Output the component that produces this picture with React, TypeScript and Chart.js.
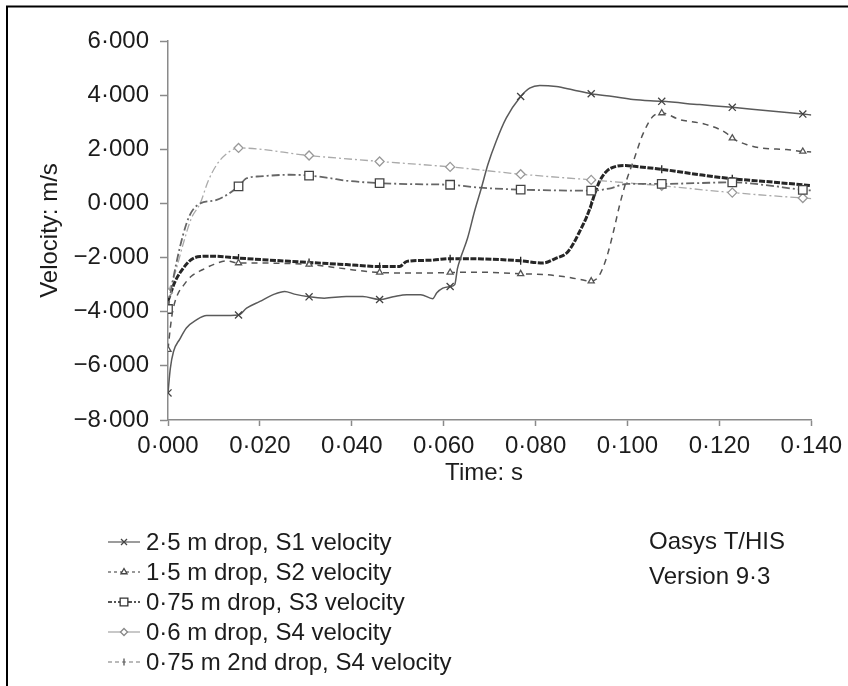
import React, { useEffect, useRef } from 'react';
import { Chart, registerables } from 'chart.js';

Chart.register(...registerables);

const X_TICKS = [0, 0.02, 0.04, 0.06, 0.08, 0.1, 0.12, 0.14];
const Y_TICKS = [-8, -6, -4, -2, 0, 2, 4, 6];
const MARKER_TIMES = [0, 0.01535, 0.0307, 0.04605, 0.0614, 0.07675, 0.0921, 0.10745, 0.1228, 0.13815];

const S1_TIME = [0, 0.0005, 0.0012, 0.0026, 0.004, 0.0062, 0.0084, 0.0113, 0.01535, 0.0171, 0.02, 0.0229, 0.0254, 0.0275, 0.0307, 0.034, 0.0388, 0.0424, 0.04605, 0.049, 0.052, 0.055, 0.0576, 0.0585, 0.0598, 0.0614, 0.0624, 0.063, 0.0637, 0.0652, 0.0667, 0.0682, 0.0696, 0.0714, 0.0736, 0.07675, 0.0787, 0.0809, 0.0845, 0.088, 0.0921, 0.0968, 0.1012, 0.10745, 0.1157, 0.1228, 0.13, 0.13815, 0.14];
const S1_VEL = [-7.0, -6.1, -5.47, -5.0, -4.6, -4.3, -4.14, -4.14, -4.12, -3.87, -3.62, -3.37, -3.25, -3.35, -3.45, -3.5, -3.44, -3.44, -3.55, -3.45, -3.37, -3.37, -3.52, -3.3, -3.13, -3.07, -3.0, -2.4, -2.0, -1.28, -0.3, 0.57, 1.43, 2.29, 3.15, 3.95, 4.26, 4.36, 4.32, 4.2, 4.05, 3.95, 3.84, 3.77, 3.65, 3.55, 3.43, 3.3, 3.27];

const S2_TIME = [0, 0.0005, 0.001, 0.002, 0.0035, 0.005, 0.0075, 0.01, 0.0128, 0.01535, 0.02, 0.026, 0.0307, 0.0374, 0.041, 0.04605, 0.052, 0.057, 0.0614, 0.067, 0.072, 0.07675, 0.082, 0.086, 0.0895, 0.0921, 0.0935, 0.0946, 0.0958, 0.097, 0.0983, 0.0997, 0.1015, 0.1033, 0.1055, 0.10745, 0.1113, 0.117, 0.1215, 0.1228, 0.126, 0.1293, 0.1346, 0.13815, 0.14];
const S2_VEL = [-5.4, -4.6, -4.0, -3.4, -3.0, -2.7, -2.45, -2.25, -2.12, -2.2, -2.2, -2.22, -2.25, -2.39, -2.47, -2.55, -2.57, -2.57, -2.55, -2.54, -2.56, -2.6, -2.63, -2.7, -2.8, -2.87, -2.75, -2.4, -1.8, -1.0, -0.05, 0.81, 1.67, 2.54, 3.21, 3.34, 3.1, 2.92, 2.6, 2.41, 2.17, 2.04, 1.99, 1.92, 1.9];

const S3_TIME = [0, 0.0005, 0.0019, 0.0033, 0.0048, 0.007, 0.0106, 0.01535, 0.0171, 0.02, 0.0265, 0.0307, 0.035, 0.0388, 0.04605, 0.054, 0.0614, 0.068, 0.07675, 0.085, 0.0921, 0.096, 0.1, 0.10745, 0.115, 0.1228, 0.13, 0.13815, 0.14];
const S3_VEL = [-3.9, -3.37, -2.14, -1.15, -0.41, 0.0, 0.13, 0.63, 0.93, 1.0, 1.06, 1.03, 0.94, 0.84, 0.75, 0.71, 0.69, 0.58, 0.51, 0.48, 0.47, 0.55, 0.72, 0.72, 0.75, 0.78, 0.68, 0.5, 0.48];

const S4_TIME = [0, 0.0015, 0.0033, 0.0051, 0.007, 0.0087, 0.0106, 0.0125, 0.01535, 0.0307, 0.04605, 0.0614, 0.07675, 0.0921, 0.10745, 0.1228, 0.13815, 0.14];
const S4_VEL = [-3.3, -2.6, -1.5, -0.54, 0.0, 0.81, 1.43, 1.8, 2.05, 1.77, 1.55, 1.35, 1.08, 0.87, 0.65, 0.4, 0.2, 0.18];

const S5_TIME = [0, 0.0015, 0.0033, 0.0051, 0.007, 0.0098, 0.01535, 0.0265, 0.0307, 0.0388, 0.04605, 0.0504, 0.052, 0.057, 0.0614, 0.0685, 0.07675, 0.0816, 0.0845, 0.0867, 0.0881, 0.0896, 0.091, 0.0921, 0.0928, 0.0939, 0.0954, 0.0975, 0.0995, 0.1015, 0.10745, 0.1157, 0.1228, 0.13, 0.14];
const S5_VEL = [-3.6, -2.9, -2.4, -2.07, -1.96, -1.95, -2.02, -2.14, -2.18, -2.26, -2.33, -2.33, -2.14, -2.1, -2.04, -2.05, -2.12, -2.2, -2.02, -1.84, -1.52, -1.03, -0.54, -0.05, 0.32, 0.81, 1.18, 1.37, 1.4, 1.37, 1.26, 1.06, 0.91, 0.81, 0.66];

const SERIES_LABELS = [
  '2·5 m drop, S1 velocity',
  '1·5 m drop, S2 velocity',
  '0·75 m drop, S3 velocity',
  '0·6 m drop, S4 velocity',
  '0·75 m 2nd drop, S4 velocity',
];
const NOTE_LINES = ['Oasys T/HIS', 'Version 9·3'];
const X_TITLE = 'Time: s';
const Y_TITLE = 'Velocity: m/s';

const FONT = '"Liberation Sans", Arial, Helvetica, sans-serif';
const TEXT = '#1c1c1c';
const AXIS = '#8a8a8a';

type Style = {
  color: string; width: number; dash: number[];
  marker: string; radius: number; markerColor: string; markerFill: string;
};

const STYLES: Style[] = [
  { color: '#5a5a5a', width: 1.5, dash: [], marker: 'crossRot', radius: 5, markerColor: '#444', markerFill: '#fff' },
  { color: '#555', width: 1.5, dash: [6, 5], marker: 'triangle', radius: 3.5, markerColor: '#555', markerFill: '#fff' },
  { color: '#666', width: 1.8, dash: [8, 3, 2, 3], marker: 'rect', radius: 6, markerColor: '#444', markerFill: '#fff' },
  { color: '#aaa', width: 1.3, dash: [8, 3, 2, 3], marker: 'rectRot', radius: 4.5, markerColor: '#999', markerFill: '#fff' },
  { color: '#262626', width: 3, dash: [6, 1.5], marker: 'line', radius: 4, markerColor: '#222', markerFill: '#222' },
];

// how each row of the key looks in the picture
const KEY_STYLES: Style[] = [
  { color: '#666', width: 1.3, dash: [], marker: 'crossRot', radius: 4, markerColor: '#444', markerFill: '#fff' },
  { color: '#777', width: 1.3, dash: [3, 3], marker: 'triangle', radius: 3.5, markerColor: '#444', markerFill: '#fff' },
  { color: '#555', width: 2, dash: [4, 2, 2, 2], marker: 'rect', radius: 5.5, markerColor: '#333', markerFill: '#fff' },
  { color: '#aaa', width: 1.3, dash: [], marker: 'rectRot', radius: 3.5, markerColor: '#888', markerFill: '#fff' },
  { color: '#777', width: 1.2, dash: [4, 3], marker: 'line', radius: 3.5, markerColor: '#555', markerFill: '#555' },
];

const fmt = (v: number) => {
  const s = Math.abs(v).toFixed(3).replace('.', '\u00b7');
  return (v < -1e-9 ? '\u2212' : '') + s;
};

const isMarker = (t: number) => MARKER_TIMES.some((m) => Math.abs(m - t) < 1e-7);

function drawMarker(ctx: CanvasRenderingContext2D, st: Style, x: number, y: number) {
  const r = st.radius;
  ctx.save();
  ctx.setLineDash([]);
  ctx.strokeStyle = st.markerColor;
  ctx.fillStyle = st.markerFill;
  ctx.lineWidth = 1.3;
  ctx.beginPath();
  if (st.marker === 'crossRot') {
    const d = r * 0.75;
    ctx.moveTo(x - d, y - d); ctx.lineTo(x + d, y + d);
    ctx.moveTo(x - d, y + d); ctx.lineTo(x + d, y - d);
    ctx.stroke();
  } else if (st.marker === 'triangle') {
    ctx.moveTo(x, y - r); ctx.lineTo(x + r * 0.87, y + r * 0.5); ctx.lineTo(x - r * 0.87, y + r * 0.5); ctx.closePath();
    ctx.fill(); ctx.stroke();
  } else if (st.marker === 'rect') {
    const s = r * 0.7;
    ctx.rect(x - s, y - s, 2 * s, 2 * s); ctx.fill(); ctx.stroke();
  } else if (st.marker === 'rectRot') {
    ctx.moveTo(x, y - r); ctx.lineTo(x + r, y); ctx.lineTo(x, y + r); ctx.lineTo(x - r, y); ctx.closePath();
    ctx.fill(); ctx.stroke();
  } else {
    ctx.moveTo(x, y - r); ctx.lineTo(x, y + r); ctx.stroke();
  }
  ctx.restore();
}

const decorPlugin = {
  id: 'decor',
  afterDraw(chart: any) {
    const ctx: CanvasRenderingContext2D = chart.ctx;
    ctx.save();
    // frame
    ctx.strokeStyle = '#000';
    ctx.lineWidth = 2;
    ctx.setLineDash([]);
    ctx.beginPath();
    ctx.moveTo(7, 900); ctx.lineTo(7, 6.5); ctx.lineTo(900, 6.5);
    ctx.stroke();

    ctx.fillStyle = TEXT;
    ctx.font = `24px ${FONT}`;
    // axis titles
    const ca = chart.chartArea;
    ctx.textAlign = 'center';
    ctx.textBaseline = 'middle';
    ctx.fillText(X_TITLE, 484, 473);
    ctx.save();
    ctx.translate(50, (ca.top + ca.bottom) / 2);
    ctx.rotate(-Math.PI / 2);
    ctx.fillText(Y_TITLE, 0, 0);
    ctx.restore();

    // key
    SERIES_LABELS.forEach((label, i) => {
      const st = KEY_STYLES[i];
      const y = 542 + 30 * i;
      ctx.save();
      ctx.strokeStyle = st.color;
      ctx.lineWidth = st.width;
      ctx.setLineDash(st.dash);
      ctx.beginPath();
      ctx.moveTo(108, y); ctx.lineTo(140, y);
      ctx.stroke();
      ctx.restore();
      drawMarker(ctx, st, 124, y);
      ctx.fillStyle = TEXT;
      ctx.textAlign = 'left';
      ctx.textBaseline = 'middle';
      ctx.fillText(label, 146, y + 1);
    });

    // note
    ctx.textAlign = 'left';
    NOTE_LINES.forEach((line, i) => {
      ctx.fillText(line, 649, 542 + 35 * i);
    });
    ctx.restore();
  },
};

const SERIES = [
  [S1_TIME, S1_VEL],
  [S2_TIME, S2_VEL],
  [S3_TIME, S3_VEL],
  [S4_TIME, S4_VEL],
  [S5_TIME, S5_VEL],
];

export default function App() {
  const ref = useRef<HTMLCanvasElement | null>(null);

  useEffect(() => {
    const canvas = ref.current;
    if (!canvas) return;
    const datasets = SERIES.map(([ts, vs], i) => {
      const st = STYLES[i];
      return {
        label: SERIES_LABELS[i],
        data: ts.map((t, k) => ({ x: t, y: vs[k] })),
        borderColor: st.color,
        borderWidth: st.width,
        borderDash: st.dash,
        fill: false,
        cubicInterpolationMode: 'monotone' as const,
        pointStyle: st.marker,
        pointRotation: st.marker === 'line' ? 90 : 0,
        pointBorderColor: st.markerColor,
        pointBackgroundColor: st.markerFill,
        pointBorderWidth: 1.3,
        pointRadius: (c: any) => (c.raw && isMarker(c.raw.x) ? st.radius : 0),
        pointHoverRadius: 0,
      };
    });

    const chart = new Chart(canvas, {
      type: 'line',
      data: { datasets },
      options: {
        animation: false,
        responsive: false,
        maintainAspectRatio: false,
        events: [],
        layout: { padding: { left: 0, right: 36, top: 41, bottom: 0 } },
        plugins: { legend: { display: false }, tooltip: { enabled: false }, title: { display: false } },
        scales: {
          x: {
            type: 'linear',
            min: 0,
            max: 0.14,
            afterBuildTicks: (s: any) => { s.ticks = X_TICKS.map((v) => ({ value: v })); },
            afterFit: (s: any) => { s.height = 266; },
            grid: { drawOnChartArea: false, drawTicks: true, tickLength: 6, tickColor: AXIS, tickWidth: 1.5 },
            border: { color: AXIS, width: 1.5 },
            ticks: {
              callback: (v: any) => fmt(Number(v)),
              font: { family: FONT, size: 24 },
              color: TEXT,
              padding: 6,
              maxRotation: 0,
              minRotation: 0,
              autoSkip: false,
            },
          },
          y: {
            type: 'linear',
            min: -8,
            max: 6,
            afterBuildTicks: (s: any) => { s.ticks = Y_TICKS.map((v) => ({ value: v })); },
            afterFit: (s: any) => { s.width = 168; },
            grid: { drawOnChartArea: false, drawTicks: true, tickLength: 8, tickColor: AXIS, tickWidth: 1.5 },
            border: { color: AXIS, width: 1.5 },
            ticks: {
              callback: (v: any) => fmt(Number(v)),
              font: { family: FONT, size: 24 },
              color: TEXT,
              padding: 11,
              autoSkip: false,
            },
          },
        },
      },
      plugins: [decorPlugin],
    } as any);

    return () => chart.destroy();
  }, []);

  return (
    <div style={{ position: 'fixed', left: 0, top: 0, width: 848, height: 686, background: '#fff', overflow: 'hidden' }}>
      <canvas ref={ref} width={848} height={686} style={{ display: 'block', width: 848, height: 686 }} />
    </div>
  );
}
